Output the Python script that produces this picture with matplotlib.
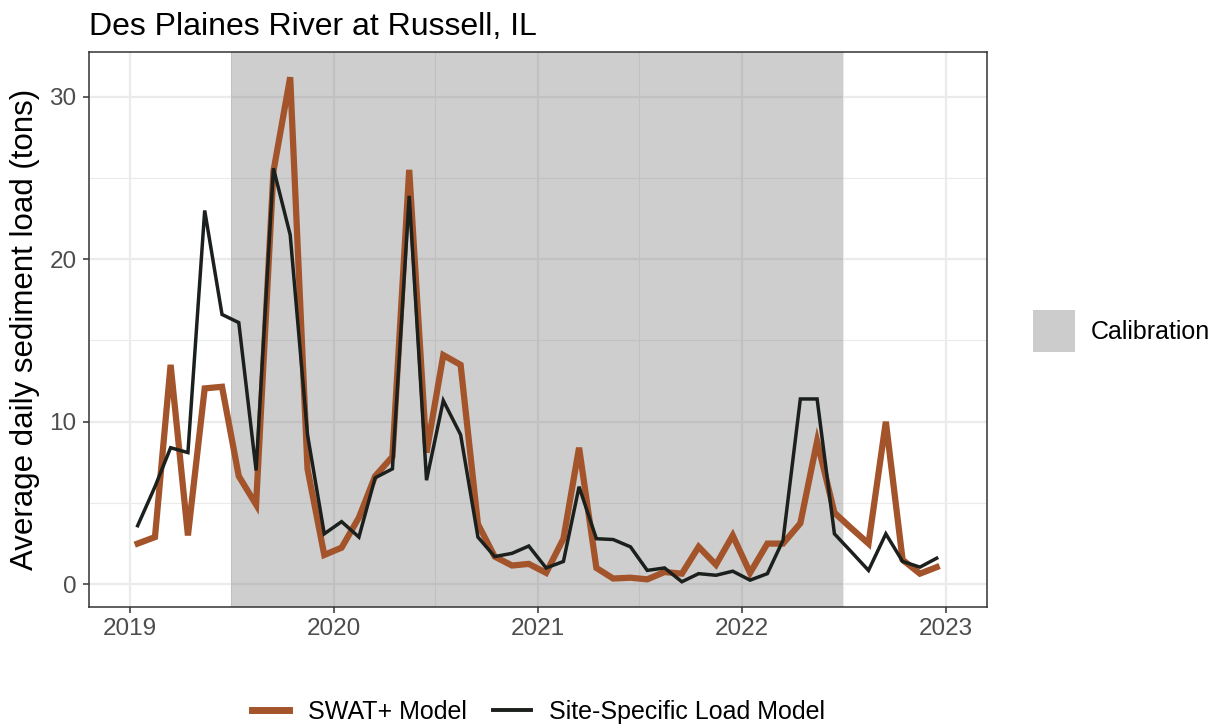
import numpy as np
import matplotlib
matplotlib.use("Agg")
import matplotlib.pyplot as plt
import matplotlib.dates as mdates
from matplotlib.lines import Line2D
from matplotlib.patches import Patch

plt.rcParams['font.family'] = ['Liberation Sans', 'DejaVu Sans']

# ---- data ----
months = np.arange('2019-01', '2023-01', dtype='datetime64[M]')
dates = months.astype('datetime64[D]') + np.timedelta64(14, 'D')

swat = [2.5, 2.9, 13.5, 3.0, 12.05, 12.15, 6.65, 4.9, 25.4, 31.2, 7.1, 1.8,
        2.25, 4.1, 6.65, 7.85, 25.5, 8.1, 14.1, 13.5, 3.7, 1.7, 1.15, 1.25,
        0.7, 2.8, 8.4, 1.0, 0.35, 0.4, 0.3, 0.75, 0.65, 2.3, 1.2, 3.0,
        0.7, 2.5, 2.5, 3.75, 8.8, 4.4, 3.45, 2.5, 10.0, 1.5, 0.65, 1.05]
site = [3.6, 6.0, 8.4, 8.1, 23.0, 16.6, 16.1, 7.0, 25.6, 21.5, 9.2, 3.1,
        3.85, 2.9, 6.55, 7.1, 23.9, 6.4, 11.3, 9.2, 2.9, 1.7, 1.9, 2.35,
        1.0, 1.4, 6.0, 2.8, 2.75, 2.3, 0.85, 1.0, 0.15, 0.65, 0.55, 0.8,
        0.25, 0.65, 2.7, 11.4, 11.4, 3.1, 2.0, 0.85, 3.1, 1.4, 1.05, 1.6]
calib_start = np.datetime64('2019-07-01')
calib_end = np.datetime64('2022-07-01')
x_start = np.datetime64('2019-01-01')
x_end = np.datetime64('2023-01-01')

title = "Des Plaines River at Russell, IL"
ylabel = "Average daily sediment load (tons)"
labels = ["SWAT+ Model", "Site-Specific Load Model"]

col_swat = '#A3542A'
col_site = '#1B201D'

fig = plt.figure(figsize=(12.25, 7.28), dpi=100)
ax = fig.add_axes([89/1225, 1-607/728, (987-89)/1225, (607-52)/728])

xd = mdates.date2num(dates)
x0 = mdates.date2num(x_start); x1 = mdates.date2num(x_end)
rng = x1 - x0
ax.set_xlim(x0 - 0.05*rng, x1 + 0.05*rng)
ymax = max(max(swat), max(site)); ymin = min(min(swat), min(site))
yr = ymax - ymin
ax.set_ylim(ymin - 0.05*yr, ymax + 0.05*yr)

ax.xaxis.set_major_locator(mdates.YearLocator())
ax.xaxis.set_major_formatter(mdates.DateFormatter('%Y'))
ax.xaxis.set_minor_locator(mdates.MonthLocator(bymonth=7))
ax.set_yticks([0, 10, 20, 30])
ax.set_yticks([5, 15, 25], minor=True)

ax.grid(True, which='major', color='#EBEBEB', linewidth=1.6, zorder=0)
ax.grid(True, which='minor', color='#EBEBEB', linewidth=0.8, zorder=0)
ax.set_axisbelow(True)

ax.axvspan(mdates.date2num(calib_start), mdates.date2num(calib_end),
           color='#7F7F7F', alpha=0.38, linewidth=0, zorder=1)

ax.plot(xd, swat, color=col_swat, linewidth=4.5, zorder=3, solid_joinstyle='miter')
ax.plot(xd, site, color=col_site, linewidth=2.5, zorder=4, solid_joinstyle='miter')

for s in ax.spines.values():
    s.set_color('#333333')
    s.set_linewidth(1.1)
ax.tick_params(which='major', length=4, width=1.1, color='#333333',
               labelsize=17.5, labelcolor='#4D4D4D', pad=4)
ax.tick_params(axis='y', which='major', pad=5)
ax.tick_params(which='minor', length=0)

ax.set_ylabel(ylabel, fontsize=22.5, color='black', labelpad=7)
ax.set_title(title, fontsize=23, loc='left', x=0.0, y=1.0, pad=12, color='black')

# legends
h1 = [Line2D([], [], color=col_swat, linewidth=5.0),
      Line2D([], [], color=col_site, linewidth=2.8)]
fig.legend(h1, labels, loc='center', bbox_to_anchor=(538.5/1225, 1-712/728), ncol=2,
           frameon=False, fontsize=18, handlelength=1.5, columnspacing=1.05,
           handletextpad=0.75)
h2 = [Patch(facecolor='#CCCCCC', edgecolor='none')]
fig.legend(h2, ["Calibration"], loc='center left', bbox_to_anchor=(1010/1225, 1-331/728),
           frameon=False, fontsize=18, handlelength=1.7, handleheight=2.2,
           handletextpad=0.65)

fig.savefig('out.png', dpi=100)
